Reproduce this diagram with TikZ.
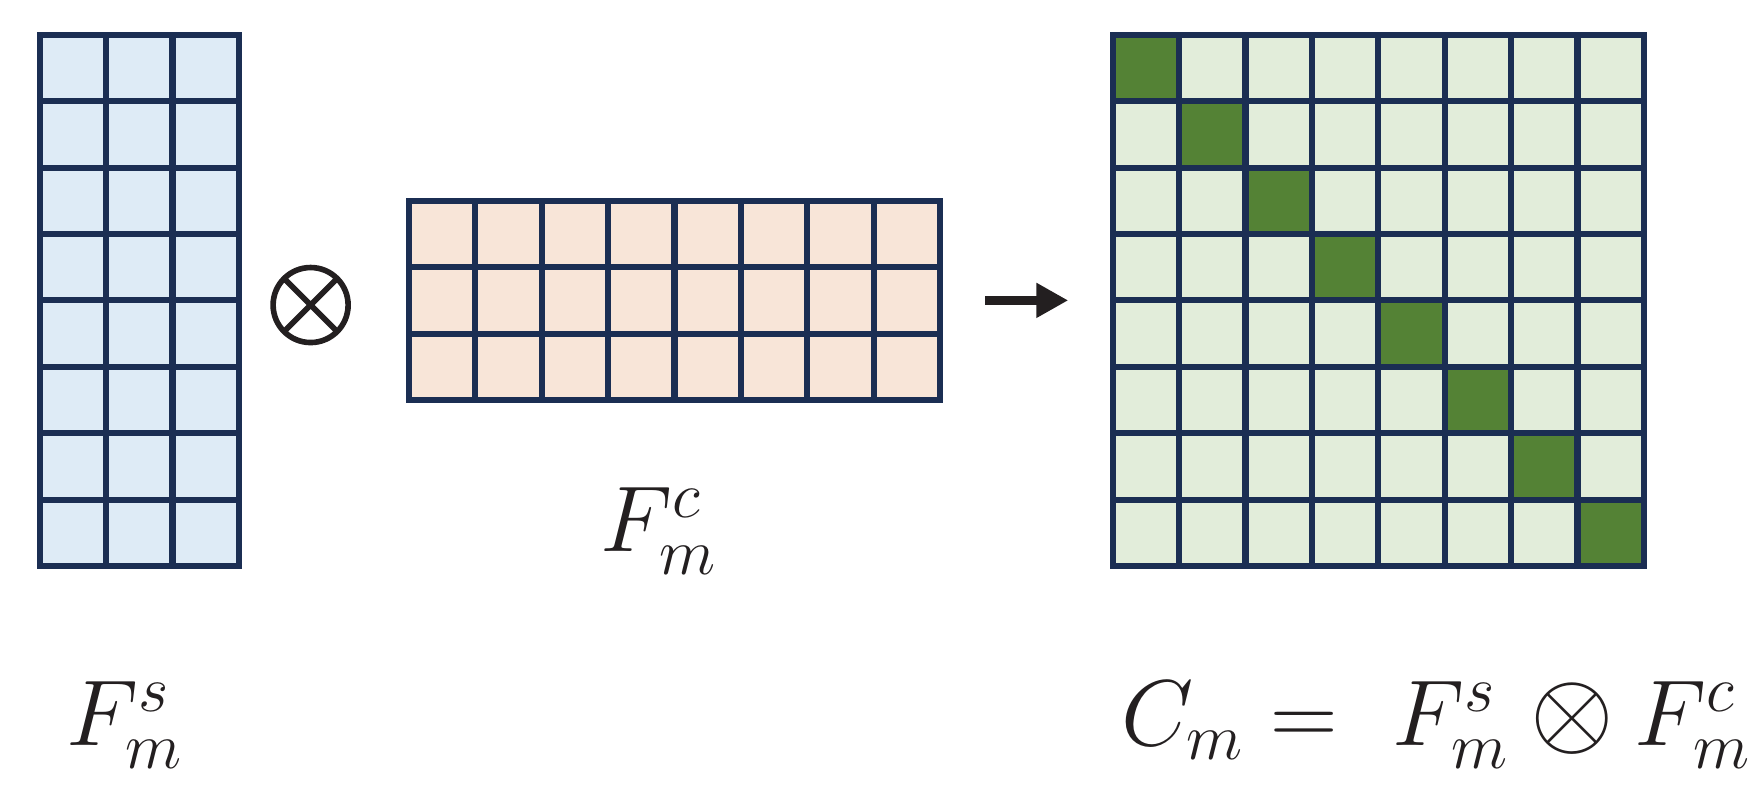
\RequirePackage{fix-cm}
\documentclass[tikz,border=0pt]{standalone}
\usepackage{amsmath}
\usepackage{xcolor}
\usetikzlibrary{arrows.meta}

\definecolor{gridnavy}{HTML}{1B2E53}
\definecolor{spblue}{HTML}{DEEBF6}
\definecolor{chpeach}{HTML}{F8E5D8}
\definecolor{cmlight}{HTML}{E2EDDA}
\definecolor{cmdark}{HTML}{548235}
\definecolor{ink}{HTML}{231F20}

\newcommand{\prodsign}{\mathbin{\scalebox{1.15}{$\otimes$}}}

\begin{document}
\begin{tikzpicture}[x=0.664cm,y=0.664cm,
  gridline/.style={draw=gridnavy,line width=1.75pt,line cap=rect},
  lbl/.style={inner sep=0pt,text=ink,font=\fontsize{26.6}{32}\selectfont}]
  \useasboundingbox (-0.598,-3.404) rectangle (25.893,8.524);

  % spatial part, 3 x 8
  \fill[spblue] (0,0) rectangle (3,8);
  \foreach \i in {0,...,3}
    \draw[gridline] (\i,0) -- (\i,8);
  \foreach \j in {0,...,8}
    \draw[gridline] (0,\j) -- (3,\j);

  % channel part, 8 x 3
  \fill[chpeach] (5.56,2.5) rectangle (13.56,5.5);
  \foreach \i in {0,...,8}
    \draw[gridline] (5.56+\i,2.5) -- (5.56+\i,5.5);
  \foreach \j in {0,...,3}
    \draw[gridline] (5.56,2.5+\j) -- (13.56,2.5+\j);

  % result, 8 x 8 with the diagonal
  \fill[cmlight] (16.16,0) rectangle (24.16,8);
  \foreach \i in {0,...,7}
    \fill[cmdark] (16.16+\i,7-\i) rectangle ++(1,1);
  \foreach \i in {0,...,8}
    \draw[gridline] (16.16+\i,0) -- (16.16+\i,8);
  \foreach \j in {0,...,8}
    \draw[gridline] (16.16,\j) -- (24.16,\j);

  % the product sign
  \coordinate (op) at (4.08,3.93);
  \draw[ink,line width=1.6pt] (op) circle (0.565)
    (op) ++(45:0.565) -- ++(225:1.13)
    (op) ++(135:0.565) -- ++(315:1.13);

  \coordinate (arrS) at (14.24,4);
  \coordinate (arrE) at (15.49,4);
  \draw[ink,line width=2.6pt,-{Triangle[length=9.1pt,width=9.4pt]}] (arrS) -- (arrE);

  \node[lbl,anchor=base] (fs) at (1.28,-2.706) {$F_m^s$};
  \node[lbl,anchor=base] (fc) at (9.33,0.215) {$F_m^c$};
  \node[lbl,anchor=base west] (cm) at (16.28,-2.706) {$C_m = \ F_m^s \prodsign F_m^c$};

\end{tikzpicture}
\end{document}
